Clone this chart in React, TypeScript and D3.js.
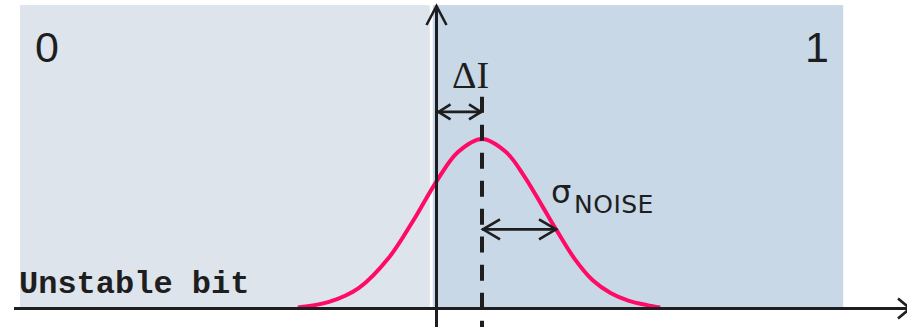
import React from "react";
import * as d3 from "d3";

// Horizontal axis: sensed current, 0 = decision threshold, unit = one sigma of noise.
// Vertical axis: relative probability density of the sensed value.
const regionLabels = ["0", "1"];
const leftRegion = [-6.95, -0.12];
const rightRegion = [-0.07, 6.77];
const regionTop = 1.79;

// Noise distribution of the sensed value (offset by deltaI from the threshold)
const curveX = [-2.32, -1.8, -1.3, -0.8, -0.4, 0, 0.35, 0.75, 1.15, 1.45, 1.75, 2.0, 2.3, 2.6, 2.9, 3.2, 3.5, 3.72];
const curveY = [0.006, 0.039, 0.122, 0.301, 0.516, 0.755, 0.923, 1, 0.923, 0.783, 0.607, 0.458, 0.29, 0.165, 0.09, 0.045, 0.02, 0.006];

const deltaI = 0.75;
const deltaIArrowLevel = 1.16;
const meanLineTop = 1.25;
const sigmaArrowEnd = 2.0;
const sigmaArrowLevel = 0.467;

const W = 907;
const H = 327;

const x = d3.scaleLinear().domain([-7.05, 7.85]).range([14, 908]);
const y = d3.scaleLinear().domain([0, 1]).range([308.5, 139]);

const INK = "#1e1e1e";
const PINK = "#ff0a66";

function DoubleArrow({ x0, x1, yy, len, spread }: { x0: number; x1: number; yy: number; len: number; spread: number }) {
  return (
    <g fill="none" stroke={INK} strokeWidth={2.6} strokeLinejoin="miter" strokeLinecap="butt">
      <line x1={x0} y1={yy} x2={x1} y2={yy} />
      <polyline points={`${x0 + len},${yy - spread} ${x0 + 1},${yy} ${x0 + len},${yy + spread}`} />
      <polyline points={`${x1 - len},${yy - spread} ${x1 - 1},${yy} ${x1 - len},${yy + spread}`} />
    </g>
  );
}

export default function App() {
  const line = d3
    .line<number>()
    .x((_, i) => x(curveX[i]))
    .y((d) => y(d))
    .curve(d3.curveCatmullRom.alpha(0.5));

  const x0 = x(0) - 0.5;
  const xm = x(deltaI);
  const axisY = y(0);

  return (
    <svg
      width={W}
      height={H}
      viewBox={`0 0 ${W} ${H}`}
      style={{ position: "absolute", left: 0, top: 0, display: "block" }}
    >
      {/* bit regions */}
      <rect
        x={x(leftRegion[0])}
        y={y(regionTop)}
        width={x(leftRegion[1]) - x(leftRegion[0])}
        height={axisY - y(regionTop)}
        fill="#dde4ec"
      />
      <rect
        x={x(rightRegion[0])}
        y={y(regionTop)}
        width={x(rightRegion[1]) - x(rightRegion[0])}
        height={axisY - y(regionTop)}
        fill="#c8d8e6"
      />

      <text x={35} y={62} fontFamily="'Liberation Sans', Arial, sans-serif" fontSize={43} fill={INK}>
        {regionLabels[0]}
      </text>
      <text x={805} y={62} fontFamily="'Liberation Sans', Arial, sans-serif" fontSize={43} fill={INK}>
        {regionLabels[1]}
      </text>

      <text
        x={19}
        y={293}
        fontFamily="'Liberation Mono', 'Courier New', monospace"
        fontWeight="bold"
        fontSize={32}
        fill={INK}
      >
        Unstable bit
      </text>

      {/* noise distribution */}
      <path d={line(curveY) ?? ""} fill="none" stroke={PINK} strokeWidth={4} />

      {/* mean of the distribution */}
      <line
        x1={xm}
        x2={xm}
        y1={y(meanLineTop)}
        y2={H}
        stroke={INK}
        strokeWidth={4}
        strokeDasharray="16 12"
      />

      {/* axes */}
      <g stroke={INK} strokeWidth={3} fill="none">
        <line x1={x0} y1={H} x2={x0} y2={6} />
        <polyline points={`${x0 - 10},25 ${x0},6 ${x0 + 10},25`} strokeWidth={2.6} />
        <line x1={14} y1={axisY} x2={907} y2={axisY} />
        <polyline points={`898,${axisY - 10} 910,${axisY} 898,${axisY + 10}`} strokeWidth={2.6} />
      </g>

      {/* offset of the mean from the threshold */}
      <DoubleArrow x0={x0 + 1} x1={xm} yy={y(deltaIArrowLevel)} len={13} spread={7.5} />
      <text x={452} y={88} fontFamily="'Liberation Serif', 'Times New Roman', serif" fontSize={38} fill={INK}>
        ΔI
      </text>

      {/* one sigma of noise */}
      <DoubleArrow x0={xm} x1={x(sigmaArrowEnd)} yy={y(sigmaArrowLevel)} len={18} spread={10} />
      <text x={551} y={203} fontFamily="'DejaVu Sans', Verdana, sans-serif" fontSize={32} fill={INK}>
        σ
      </text>
      <text
        x={574}
        y={213}
        fontFamily="'DejaVu Sans', Verdana, sans-serif"
        fontSize={25}
        letterSpacing={0.5}
        fill={INK}
      >
        NOISE
      </text>
    </svg>
  );
}
